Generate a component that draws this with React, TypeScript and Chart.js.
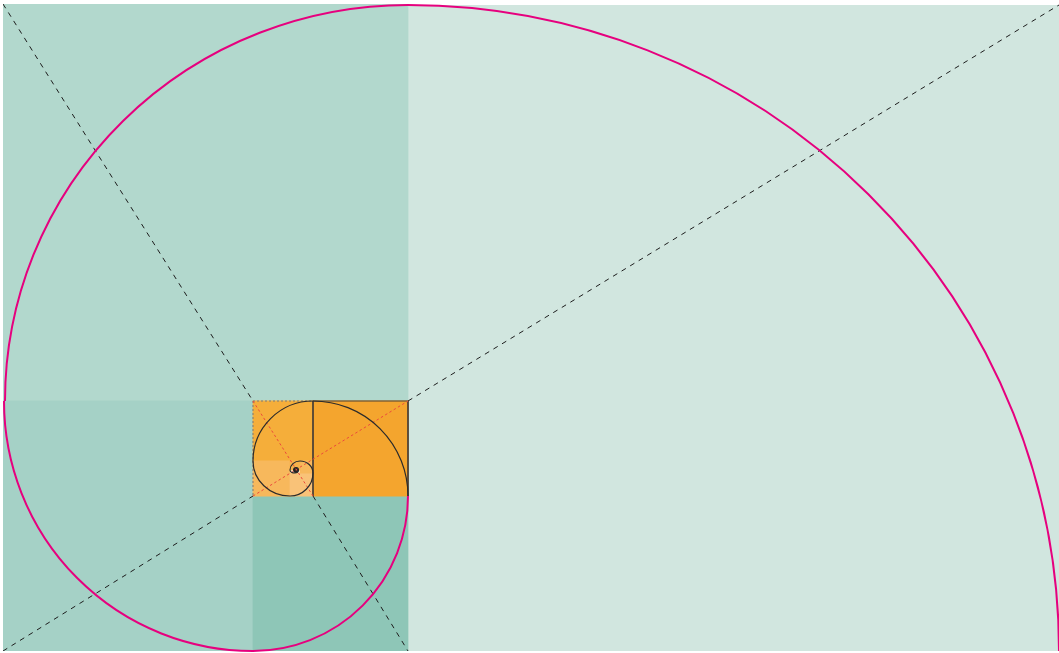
import React, { useEffect, useRef } from "react";
import { Chart, registerables } from "chart.js";

Chart.register(...registerables);

// ---- Data (figure units: 1 unit = 1 px of the reference figure) ----
// Golden-rectangle squares: A (largest) ... J (smallest)
const squareNames = ["A", "B", "C", "D", "E", "F", "G", "H", "I", "J"];
const squareLeft = [405, 0, 0, 250, 310, 250, 250, 287, 297, 287];
const squareTop = [1.5, 0, 397, 492, 397, 397, 457, 469, 457, 457];
const squareRight = [1056, 405, 250, 405, 405, 310, 287, 310, 310, 297];
const squareBottom = [647, 397, 647, 647, 492, 457, 492, 492, 469, 466];
const squareColors = [
  "#D1E6DF", "#B2D8CD", "#A5D1C6", "#8EC6B7",
  "#F4A52E", "#F5AE3A", "#F7B85C", "#F9C278", "#F7B85C", "#F6B24C",
];

// Outer (magenta) spiral: quarter arcs
const pinkCenterX = [250, 250, 405, 405];
const pinkCenterY = [492, 397, 397, 647];
const pinkRadiusX = [155, 249, 403, 651];
const pinkRadiusY = [155, 250, 396, 646];
const pinkStartDeg = [0, 90, 180, 270];
const pinkEndDeg = [90, 180, 270, 360];

// Inner (dark) spiral: quarter arcs inside the orange rectangle
const spiralCenterX = [310, 310, 287, 287, 297, 297, 292, 292, 293];
const spiralCenterY = [492, 457, 457, 469, 469, 466, 466, 466, 466];
const spiralRadiusX = [95, 60, 37, 23, 13, 10, 5, 3, 2];
const spiralRadiusY = [95, 60, 35, 23, 12, 9, 3, 3, 2];
const spiralStartDeg = [270, 180, 90, 0, 270, 180, 90, 0, 270];
const spiralEndDeg = [360, 270, 180, 90, 360, 270, 180, 90, 360];

// Diagonals: [x0, y0, x1, y1]
const blackDiagX0 = [0, 310, 0, 405];
const blackDiagY0 = [0, 492, 647, 397];
const blackDiagX1 = [250, 405, 250, 1056];
const blackDiagY1 = [397, 647, 492, 1];
const redDiagX0 = [250, 250];
const redDiagY0 = [397, 492];
const redDiagX1 = [310, 405];
const redDiagY1 = [492, 397];

// Orange rectangle edges
const edgeX0 = [250, 250, 310, 405, 310];
const edgeY0 = [397, 397, 397, 397, 397];
const edgeX1 = [310, 250, 405, 405, 310];
const edgeY1 = [397, 492, 397, 492, 492];
const edgeDashed = [true, true, false, false, false];

const poleX = [293];
const poleY = [466];

const X_MAX = 1056;
const Y_MAX = 647;
const BLEED = 0.6;

const arcPlugin = {
  id: "spiralArcs",
  afterDatasetsDraw(chart: any) {
    const { ctx, chartArea } = chart;
    const xs = chart.scales.x;
    const ys = chart.scales.y;
    ctx.save();
    ctx.beginPath();
    ctx.rect(chartArea.left - 2, chartArea.top - 2, chartArea.width + 4, chartArea.height + 4);
    ctx.clip();
    const drawArc = (cx: number, cy: number, rx: number, ry: number, a0: number, a1: number, color: string, w: number) => {
      const px = xs.getPixelForValue(cx);
      const py = ys.getPixelForValue(cy);
      const prx = Math.abs(xs.getPixelForValue(cx + rx) - px);
      const pry = Math.abs(ys.getPixelForValue(cy + ry) - py);
      ctx.beginPath();
      ctx.ellipse(px, py, prx, pry, 0, (a0 * Math.PI) / 180, (a1 * Math.PI) / 180);
      ctx.strokeStyle = color;
      ctx.lineWidth = w;
      ctx.setLineDash([]);
      ctx.stroke();
    };
    spiralCenterX.forEach((cx, i) =>
      drawArc(cx, spiralCenterY[i], spiralRadiusX[i], spiralRadiusY[i], spiralStartDeg[i], spiralEndDeg[i], "#2b2b2b", 1.2)
    );
    pinkCenterX.forEach((cx, i) =>
      drawArc(cx, pinkCenterY[i], pinkRadiusX[i], pinkRadiusY[i], pinkStartDeg[i], pinkEndDeg[i], "#E6007E", 2)
    );
    ctx.restore();
  },
};

export default function App() {
  const ref = useRef<HTMLCanvasElement | null>(null);

  useEffect(() => {
    document.body.style.margin = "0";
    document.body.style.overflow = "hidden";
    if (!ref.current) return;
    const layers: any[] = [];
    squareNames.forEach((name, i) => {
      layers.push({
        label: "square " + name,
        data: [
          { x: squareLeft[i] - BLEED, y: squareTop[i] - BLEED },
          { x: squareRight[i] + BLEED, y: squareTop[i] - BLEED },
        ],
        fill: { value: squareBottom[i] + BLEED },
        backgroundColor: squareColors[i],
        borderColor: "rgba(0,0,0,0)",
        borderWidth: 0,
        pointRadius: 0,
      });
    });
    blackDiagX0.forEach((x0, i) => {
      layers.push({
        label: "diag " + i,
        data: [
          { x: x0, y: blackDiagY0[i] },
          { x: blackDiagX1[i], y: blackDiagY1[i] },
        ],
        fill: false,
        borderColor: "#1e1e1e",
        borderWidth: 1,
        borderDash: [5, 5],
        pointRadius: 0,
      });
    });
    edgeX0.forEach((x0, i) => {
      layers.push({
        label: "edge " + i,
        data: [
          { x: x0, y: edgeY0[i] },
          { x: edgeX1[i], y: edgeY1[i] },
        ],
        fill: false,
        borderColor: edgeDashed[i] ? "#7a7a7a" : "#4a4036",
        borderWidth: 1,
        borderDash: edgeDashed[i] ? [2, 2] : [],
        pointRadius: 0,
      });
    });
    layers.push({
      label: "pole",
      data: [{ x: poleX[0], y: poleY[0] }],
      showLine: false,
      pointRadius: 3,
      pointHoverRadius: 3,
      pointBackgroundColor: "#222",
      pointBorderWidth: 0,
      fill: false,
    });
    redDiagX0.forEach((x0, i) => {
      layers.push({
        label: "red diag " + i,
        data: [
          { x: x0, y: redDiagY0[i] },
          { x: redDiagX1[i], y: redDiagY1[i] },
        ],
        fill: false,
        borderColor: "#EC4A3C",
        borderWidth: 1,
        borderDash: [2.5, 2.5],
        pointRadius: 0,
      });
    });
    const n = layers.length;
    layers.forEach((l, i) => {
      l.order = n - i;
      l.tension = 0;
      l.pointHoverRadius = l.pointRadius;
    });

    const chart = new Chart(ref.current, {
      type: "line",
      data: { datasets: layers },
      options: {
        animation: false,
        responsive: false,
        devicePixelRatio: 1,
        events: [],
        layout: { autoPadding: false, padding: { left: 3, top: 4, right: 0, bottom: 2 } },
        scales: {
          x: { type: "linear", min: 0, max: X_MAX, display: false },
          y: { type: "linear", min: 0, max: Y_MAX, reverse: true, display: false },
        },
        plugins: {
          legend: { display: false },
          tooltip: { enabled: false },
        },
      } as any,
      plugins: [arcPlugin],
    });
    return () => chart.destroy();
  }, []);

  return (
    <div style={{ position: "absolute", left: 0, top: 0, width: 1059, height: 653, overflow: "hidden", background: "#fff" }}>
      <canvas ref={ref} width={1059} height={653} style={{ display: "block", width: 1059, height: 653 }} />
    </div>
  );
}
